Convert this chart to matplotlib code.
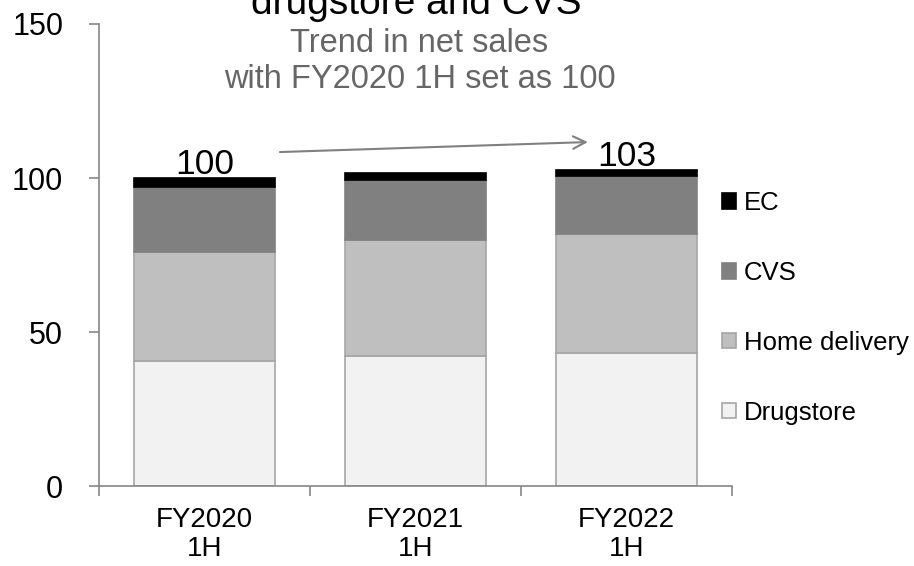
import numpy as np
import matplotlib
matplotlib.use("Agg")
import matplotlib.pyplot as plt
from matplotlib.patches import Patch

plt.rcParams["font.family"] = ["Liberation Sans", "DejaVu Sans"]

# Net sales index by channel (FY2020 1H total = 100)
periods = ["FY2020\n1H", "FY2021\n1H", "FY2022\n1H"]
drugstore = [40.7, 42.1, 43.1]
home_delivery = [35.3, 37.7, 38.8]
cvs = [21.0, 19.7, 18.6]
ec = [3.0, 2.0, 2.1]
total_labels = ["100", None, "103"]

series = [
    ("Drugstore", drugstore, "#f2f2f2", "#a6a6a6"),
    ("Home delivery", home_delivery, "#bfbfbf", "#a6a6a6"),
    ("CVS", cvs, "#808080", "#808080"),
    ("EC", ec, "#000000", "#000000"),
]

AXIS = "#868686"

fig = plt.figure(figsize=(9.14, 5.66), dpi=100)
ax = fig.add_axes([0.108, 0.1413, 0.693, 0.8163])

x = np.arange(len(periods))
bottom = np.zeros(len(periods))
for name, vals, face, edge in series:
    ax.bar(x, vals, width=0.67, bottom=bottom, color=face, edgecolor=edge,
           linewidth=1.2, label=name)
    bottom += np.array(vals)

totals = bottom
for i, lab in enumerate(total_labels):
    if lab:
        ax.text(x[i], totals[i] + 4.5, lab, ha="center", va="center",
                fontsize=25.5, color="black")

# growth arrow from first to last period
ax.annotate("", xy=(1.83, 111.7), xytext=(0.345, 108.4),
            arrowprops=dict(arrowstyle="->,head_length=0.9,head_width=0.45",
                            color="#808080", lw=1.5))

ax.set_xlim(-0.5, 2.5)
ax.set_ylim(0, 150)
ax.set_yticks([0, 50, 100, 150])
ax.set_xticks(x)
ax.set_xticklabels(periods, fontsize=20, linespacing=1.15)
ax.set_xticks([-0.5, 0.5, 1.5, 2.5], minor=True)
ax.tick_params(axis="x", which="major", length=0, pad=15)
ax.tick_params(axis="x", which="minor", length=7, color=AXIS, width=1.2)
ax.tick_params(axis="y", labelsize=22, length=7, color=AXIS, width=1.2, pad=18.5)

for side in ["top", "right"]:
    ax.spines[side].set_visible(False)
for side in ["left", "bottom"]:
    ax.spines[side].set_color(AXIS)
    ax.spines[side].set_linewidth(1.2)

handles = [Patch(facecolor=f, edgecolor=e, linewidth=1.2) for _, _, f, e in series][::-1]
labels = [s[0] for s in series][::-1]
fig.legend(handles, labels, loc="upper left", bbox_to_anchor=(0.790, 0.662),
           frameon=False, fontsize=18.5, handlelength=0.55, handleheight=0.55,
           handletextpad=0.3, labelspacing=1.78, borderaxespad=0, borderpad=0)

# heading (upper line runs off the top edge)
fig.text(0.455, 1 - 14 / 566, "drugstore and CVS", ha="center", va="baseline",
         fontsize=28, color="black")
fig.text(0.459, 1 - 52 / 566, "Trend in net sales", ha="center", va="baseline",
         fontsize=23.5, color="#666666")
fig.text(0.459, 1 - 88 / 566, "with FY2020 1H set as 100", ha="center",
         va="baseline", fontsize=23.5, color="#666666")

fig.savefig("out.png", dpi=100)
